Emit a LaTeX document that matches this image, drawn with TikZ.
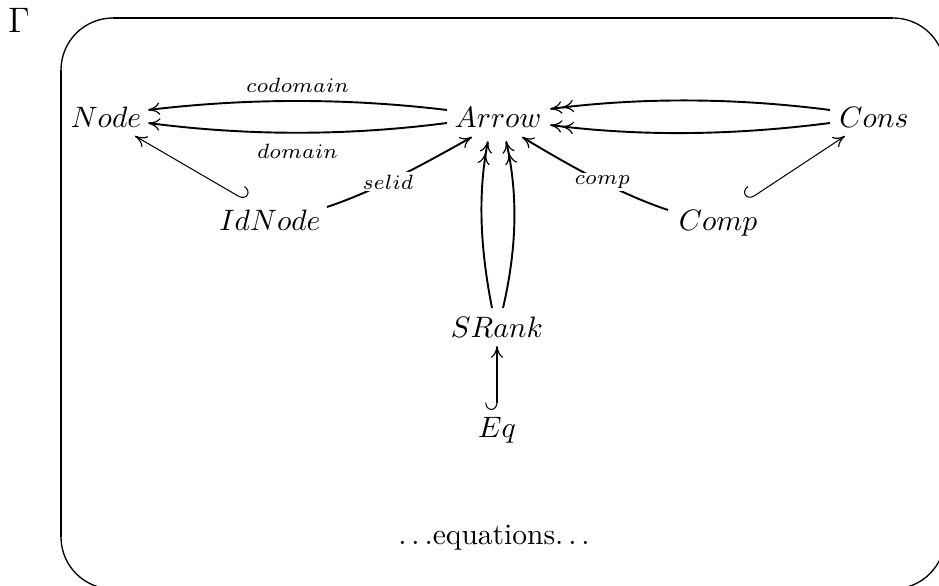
\documentclass[tikz,border=0pt]{standalone}
\usetikzlibrary{arrows.meta,calc}
\tikzset{
  cmr/.tip={Computer Modern Rightarrow[length=4pt,width=4.2pt,line width=0.4pt]},
  obj/.style={anchor=base, inner sep=0pt},
  mor/.style={line width=0.65pt, -{cmr}},
  epi/.style={line width=0.65pt, -{cmr[] cmr[]}},
  incR/.style={line width=0.35pt, {Hooks[right,length=2.5pt,width=8pt]}-{cmr}},
  incL/.style={line width=0.35pt, {Hooks[left,length=2.5pt,width=8pt]}-{cmr}},
  onlab/.style={font=\scriptsize, fill=white, inner sep=0.8pt},
  sidelab/.style={font=\scriptsize},
  frame/.style={line width=0.45pt},
  frameedge/.style={line width=0.7pt}
}
\begin{document}
\begin{tikzpicture}[x=0.3386pt,y=-0.3386pt]
\useasboundingbox (0,0) rectangle (939,586);
\begin{scope}
  \clip (0,0) rectangle (939,586);
  \draw[frame, rounded corners=17.6pt] (61,18) rectangle (945,589);
  \draw[frameedge] (61,70) -- (61,537);
  \draw[frameedge] (113,18) -- (893,18);
\end{scope}

\node[obj, font=\large] (Gm) at (19,33) {$\Gamma$};
\node[obj] (Nd) at (106,128) {$Node$};
\node[obj] (Ar) at (498,128) {$Arrow$};
\node[obj] (Cn) at (874,128) {$Cons$};
\node[obj] (Id) at (270,231) {$IdNode$};
\node[obj] (Cp) at (718,231) {$Comp$};
\node[obj] (SR) at (497,338) {$SRank$};
\node[obj] (Eq) at (497,438) {$Eq$};
\node[obj] (eqs) at (494,545) {$\ldots$equations$\ldots$};

% Arrow -> Node
\draw[mor] ($(Ar.base)+(-51,-18)$) .. controls +(-100,-12) and +(100,-12) .. ($(Nd.base)+(42,-18)$)
  node[midway, above, inner sep=2.7pt, sidelab] {$codomain$};
\draw[mor] ($(Ar.base)+(-51,-5)$) .. controls +(-100,13) and +(100,13) .. ($(Nd.base)+(42,-5)$)
  node[midway, below, inner sep=3.4pt, sidelab] {$domain$};

% Cons -> Arrow
\draw[epi] ($(Cn.base)+(-44,-18)$) .. controls +(-93,-12) and +(93,-12) .. ($(Ar.base)+(52,-19)$);
\draw[epi] ($(Cn.base)+(-44,-5)$) .. controls +(-93,12) and +(93,12) .. ($(Ar.base)+(52,-3)$);

% SRank -> Arrow
\draw[epi] ($(SR.base)+(-5,-30)$) .. controls +(-11,-56) and +(-11,56) .. ($(Ar.base)+(-10,13)$);
\draw[epi] ($(SR.base)+(6,-30)$) .. controls +(13,-56) and +(13,56) .. ($(Ar.base)+(8,13)$);

% IdNode -> Arrow (selid)
\draw[mor] ($(Id.base)+(57,-24)$) .. controls +(48,-16) and +(-48,27) .. ($(Ar.base)+(-26,9)$)
  node[pos=0.42, onlab] {$selid$};

% Comp -> Arrow (comp)
\draw[mor] ($(Cp.base)+(-50,-21)$) .. controls +(-48,-16) and +(48,29) .. ($(Ar.base)+(24,9)$)
  node[pos=0.45, onlab] {$comp$};

% inclusions
\draw[incL] ($(Id.base)+(-25,-31)$) -- ($(Nd.base)+(29,8)$);
\draw[incR] ($(Cp.base)+(30,-31)$) -- ($(Cn.base)+(-29,8)$);
\draw[incR] ($(Eq.base)+(0,-28)$) -- ($(SR.base)+(0,8)$);
\end{tikzpicture}
\end{document}
